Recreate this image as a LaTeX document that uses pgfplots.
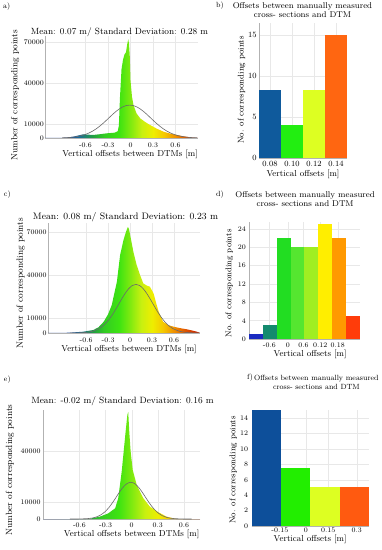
\documentclass[border=0pt]{standalone}
\usepackage{pgfplots}
\pgfplotsset{compat=1.18}
\definecolor{s1}{HTML}{1A3D9E}
\definecolor{s2}{HTML}{1A6A9A}
\definecolor{s3}{HTML}{22A040}
\definecolor{s4}{HTML}{33CC22}
\definecolor{s5}{HTML}{3EE411}
\definecolor{s6}{HTML}{80EA10}
\definecolor{s7}{HTML}{C8F010}
\definecolor{s8}{HTML}{EEEE00}
\definecolor{s9}{HTML}{F5C800}
\definecolor{s10}{HTML}{F09000}
\definecolor{s11}{HTML}{E05500}
\definecolor{s12}{HTML}{CC2A00}
\pgfdeclarehorizontalshading{spec}{100bp}{color(0bp)=(s1); color(31.8bp)=(s1); color(36.4bp)=(s2); color(40.9bp)=(s3); color(44.3bp)=(s4); color(48.9bp)=(s5); color(52.3bp)=(s6); color(55.7bp)=(s7); color(59.1bp)=(s8); color(62.5bp)=(s9); color(65.9bp)=(s10); color(69.3bp)=(s11); color(72.7bp)=(s12); color(100bp)=(s12)}
\definecolor{bBlue}{HTML}{0F5A9C}
\definecolor{bGreen}{HTML}{22EE11}
\definecolor{bYel}{HTML}{DDFF22}
\definecolor{bOra}{HTML}{FF6611}
\definecolor{dBlue}{HTML}{1A2AC0}
\definecolor{dTeal}{HTML}{148A6E}
\definecolor{dG1}{HTML}{22DD22}
\definecolor{dG2}{HTML}{55E630}
\definecolor{dG3}{HTML}{A0EE22}
\definecolor{dYel}{HTML}{FFEE00}
\definecolor{dOra}{HTML}{FF9900}
\definecolor{dRed}{HTML}{FF3C0A}
\definecolor{fBlue}{HTML}{0D4F9A}
\definecolor{fGreen}{HTML}{22EE00}
\definecolor{fYel}{HTML}{DDFF22}
\definecolor{fOra}{HTML}{FF5A10}
\definecolor{gaus}{HTML}{6A6A6A}
\pgfplotsset{
  base/.style={scale only axis, anchor=south west, axis lines=left,
    axis line style={-, draw=gray!60, line width=0.4pt},
    grid=major, grid style={draw=gray!18, line width=0.3pt},
    major tick length=0pt, minor tick length=0pt, ymin=0,
    tick label style={font=\fontsize{7}{8}\selectfont, inner sep=0pt},
    /pgf/number format/assume math mode=true, /pgf/number format/1000 sep={},
    scaled ticks=false,
    every axis title/.style={anchor=center, font=\fontsize{9}{9.5}\selectfont, align=center},
    every axis x label/.style={anchor=center, font=\fontsize{8.7}{9.5}\selectfont},
    every axis y label/.style={anchor=center, rotate=90, font=\fontsize{9}{10}\selectfont},
    yticklabel style={anchor=east}, xticklabel style={anchor=center}},
  hist/.style={base, xtick={-0.6,-0.3,0,0.3,0.6}, xticklabels={-0.6,-0.3,0,0.3,0.6},
    xlabel={Vertical offsets between DTMs [m]}, ylabel={Number of corresponding points}},
  bars/.style={base, xmin=-0.5, xmax=3.5, xlabel={Vertical offsets [m]},
    ylabel={No. of corresponding points},
    title={Offsets between manually measured\\cross- sections and DTM},
    title style={font=\fontsize{8.4}{8.6}\selectfont},
    ylabel style={font=\fontsize{8.3}{9}\selectfont}},
}
\begin{document}
\begin{tikzpicture}[font=\fontsize{7.5}{8}\selectfont]
\useasboundingbox (0,0) rectangle (381pt,550pt);
\node[anchor=center] at (6.7pt,543.3pt) {a)};
\node[anchor=center] at (220pt,544pt) {b)};
\node[anchor=center] at (7.3pt,355pt) {c)};
\node[anchor=center] at (220pt,355.7pt) {d)};
\node[anchor=center] at (7.3pt,170pt) {e)};
\node[anchor=center] at (250pt,172pt) {f)};

% ---------------- a)
\begin{axis}[hist, at={(45pt,412pt)}, width=153pt, height=102pt,
  xmin=-1.14, xmax=0.9, ymax=74400, ytick={0,10000,40000,70000},
  title={Mean: 0.07 m/ Standard Deviation: 0.28 m},
  title style={at={(axis description cs:0.487,1.036)}},
  xlabel style={at={(axis description cs:0.556,-0.157)}},
  ylabel style={at={(axis description cs:-0.196,0.42)}},
  xticklabel style={yshift=-7.7pt}, yticklabel style={xshift=-1pt}]
\addplot[draw=none, shade, shading=spec] table {
x y
-1.2 0
-0.94 0
-0.85 300
-0.76 1000
-0.63 2700
-0.5 2200
-0.4 2800
-0.32 3400
-0.21 3900
-0.17 5000
-0.155 9000
-0.14 30000
-0.12 50000
-0.10 57000
-0.08 61000
-0.06 62500
-0.045 68000
-0.03 72000
-0.02 69000
-0.01 60000
0.0 42000
0.02 30000
0.04 24000
0.08 18000
0.13 14300
0.2 11500
0.26 9500
0.35 6800
0.44 4600
0.53 3200
0.62 2200
0.7 1300
0.79 500
0.9 0
1.0 0
} \closedcycle;
\addplot[smooth, draw=gaus, line width=0.6pt, mark=none] table {
x y
-0.91 137
-0.81 406
-0.71 1054
-0.66 1620
-0.61 2420
-0.56 3490
-0.51 4870
-0.46 6600
-0.41 8650
-0.36 10990
-0.31 13520
-0.26 16110
-0.21 18600
-0.16 20790
-0.11 22520
-0.06 23620
-0.01 24000
0.04 23620
0.09 22520
0.14 20790
0.19 18600
0.24 16110
0.29 13520
0.34 10990
0.39 8650
0.44 6600
0.49 4870
0.54 3490
0.59 2420
0.64 1620
0.69 1054
0.79 406
0.89 137
};
\end{axis}

% ---------------- b)
\begin{axis}[bars, at={(259pt,391.7pt)}, width=88pt, height=135.6pt,
  ymax=16.5, ytick={0,5,10,15}, xtick={0,1,2,3}, xticklabels={0.08,0.10,0.12,0.14},
  tick label style={font=\fontsize{8}{9}\selectfont},
  title style={at={(axis description cs:0.494,1.092)}},
  xlabel style={at={(axis description cs:0.5,-0.116)}},
  ylabel style={at={(axis description cs:-0.197,0.504)}},
  xticklabel style={yshift=-5.9pt}, yticklabel style={xshift=-2.3pt}]
\addplot[ybar, bar width=1, bar shift=0pt, fill=bBlue, draw=none] coordinates {(0,8.3)};
\addplot[ybar, bar width=1, bar shift=0pt, fill=bGreen, draw=none] coordinates {(1,4.1)};
\addplot[ybar, bar width=1, bar shift=0pt, fill=bYel, draw=none] coordinates {(2,8.3)};
\addplot[ybar, bar width=1, bar shift=0pt, fill=bOra, draw=none] coordinates {(3,15)};
\end{axis}

% ---------------- c)
\begin{axis}[hist, at={(48pt,217pt)}, width=151.7pt, height=110pt,
  xmin=-1.12, xmax=0.95, ymax=76230, ytick={0,10000,40000,70000},
  title={Mean: 0.08 m/ Standard Deviation: 0.23 m},
  title style={at={(axis description cs:0.511,1.057)}, font=\fontsize{9.4}{10}\selectfont},
  xlabel style={at={(axis description cs:0.534,-0.148)}},
  ylabel style={at={(axis description cs:-0.18,0.452)}},
  xticklabel style={yshift=-7pt}, yticklabel style={xshift=-1.3pt}]
\addplot[draw=none, shade, shading=spec] table {
x y
-1.2 0
-0.95 0
-0.8 300
-0.64 900
-0.5 2100
-0.43 4000
-0.36 7800
-0.3 13000
-0.25 19400
-0.18 35500
-0.136 54000
-0.09 64400
-0.055 70200
-0.03 73500
-0.015 72000
0.01 65600
0.045 56300
0.09 47100
0.136 40200
0.18 34400
0.23 32800
0.27 32100
0.32 27500
0.36 20000
0.39 14800
0.45 7800
0.52 5500
0.59 4400
0.68 3400
0.77 2600
0.85 1700
0.91 900
0.96 0
1.0 0
} \closedcycle;
\addplot[smooth, draw=gaus, line width=0.6pt, mark=none] table {
x y
-0.82 16
-0.72 80
-0.62 330
-0.52 1120
-0.42 3170
-0.37 4970
-0.32 7430
-0.27 10590
-0.22 14390
-0.17 18670
-0.12 23090
-0.07 27240
-0.02 30660
0.03 32910
0.08 33700
0.13 32910
0.18 30660
0.23 27240
0.28 23090
0.33 18670
0.38 14390
0.43 10590
0.48 7430
0.53 4970
0.58 3170
0.68 1120
0.78 330
0.88 80
0.95 25
};
\end{axis}

% ---------------- d)
\begin{axis}[bars, at={(249pt,211pt)}, width=111pt, height=117pt,
  xmin=-0.5, xmax=7.5, ymax=25.5, ytick={0,4,8,12,16,20,24},
  xtick={0.97,2.3,3.43,4.64,5.9}, xticklabels={-0.6,0,0.6,0.12,0.18},
  title style={at={(axis description cs:0.506,1.195)}},
  xlabel style={at={(axis description cs:0.55,-0.131)}},
  ylabel style={at={(axis description cs:-0.177,0.476)}},
  xticklabel style={yshift=-6pt}, yticklabel style={xshift=-3pt}]
\addplot[ybar, bar width=1, bar shift=0pt, fill=dBlue, draw=none] coordinates {(0,1)};
\addplot[ybar, bar width=1, bar shift=0pt, fill=dTeal, draw=none] coordinates {(1,3)};
\addplot[ybar, bar width=1, bar shift=0pt, fill=dG1, draw=none] coordinates {(2,22)};
\addplot[ybar, bar width=1, bar shift=0pt, fill=dG2, draw=none] coordinates {(3,20)};
\addplot[ybar, bar width=1, bar shift=0pt, fill=dG3, draw=none] coordinates {(4,20)};
\addplot[ybar, bar width=1, bar shift=0pt, fill=dYel, draw=none] coordinates {(5,25)};
\addplot[ybar, bar width=1, bar shift=0pt, fill=dOra, draw=none] coordinates {(6,22)};
\addplot[ybar, bar width=1, bar shift=0pt, fill=dRed, draw=none] coordinates {(7,5)};
\end{axis}

% ---------------- e)
\begin{axis}[hist, at={(43.3pt,31pt)}, width=156.7pt, height=109pt,
  xmin=-1.016, xmax=0.785, ymax=64100, ytick={0,10000,40000},
  title={Mean: -0.02 m/ Standard Deviation: 0.16 m},
  title style={at={(axis description cs:0.505,1.076)}, font=\fontsize{9.1}{9.5}\selectfont},
  xlabel style={at={(axis description cs:0.564,-0.140)}},
  ylabel style={at={(axis description cs:-0.2125,0.45)}},
  xticklabel style={yshift=-6.7pt}, yticklabel style={xshift=-2.6pt}]
\addplot[draw=none, shade, shading=spec] table {
x y
-1.2 0
-0.5 0
-0.45 500
-0.365 1400
-0.27 3300
-0.19 6300
-0.155 12200
-0.115 27800
-0.085 43500
-0.066 53300
-0.05 61200
-0.04 63000
-0.028 51400
-0.012 39600
0.012 28800
0.058 20000
0.134 12200
0.21 7200
0.31 3900
0.40 1400
0.48 400
0.52 0
1.0 0
} \closedcycle;
\addplot[smooth, draw=gaus, line width=0.6pt, mark=none] table {
x y
-0.71 0
-0.61 30
-0.51 220
-0.46 520
-0.41 1140
-0.36 2280
-0.31 4140
-0.26 6850
-0.21 10360
-0.16 14290
-0.11 17980
-0.06 20630
-0.01 21600
0.04 20630
0.09 17980
0.14 14290
0.19 10360
0.24 6850
0.29 4140
0.34 2280
0.39 1140
0.44 520
0.49 220
0.59 30
0.69 0
};
\end{axis}

% ---------------- f)
\begin{axis}[bars, at={(251.7pt,24pt)}, width=117.6pt, height=116pt,
  ymax=15.05, ytick={0,2,4,6,8,10,12,14},
  xtick={0.46,1.34,2.1,3.07}, xticklabels={-0.15,0,0.15,0.3},
  title style={at={(axis description cs:0.55,1.239)}, font=\fontsize{7.5}{8.6}\selectfont},
  xlabel style={at={(axis description cs:0.496,-0.112)}},
  ylabel style={at={(axis description cs:-0.156,0.483)}},
  xticklabel style={yshift=-4.3pt}, yticklabel style={xshift=-3.4pt}]
\addplot[ybar, bar width=1, bar shift=0pt, fill=fBlue, draw=none] coordinates {(0,15)};
\addplot[ybar, bar width=1, bar shift=0pt, fill=fGreen, draw=none] coordinates {(1,7.5)};
\addplot[ybar, bar width=1, bar shift=0pt, fill=fYel, draw=none] coordinates {(2,5)};
\addplot[ybar, bar width=1, bar shift=0pt, fill=fOra, draw=none] coordinates {(3,5)};
\end{axis}
\end{tikzpicture}
\end{document}
